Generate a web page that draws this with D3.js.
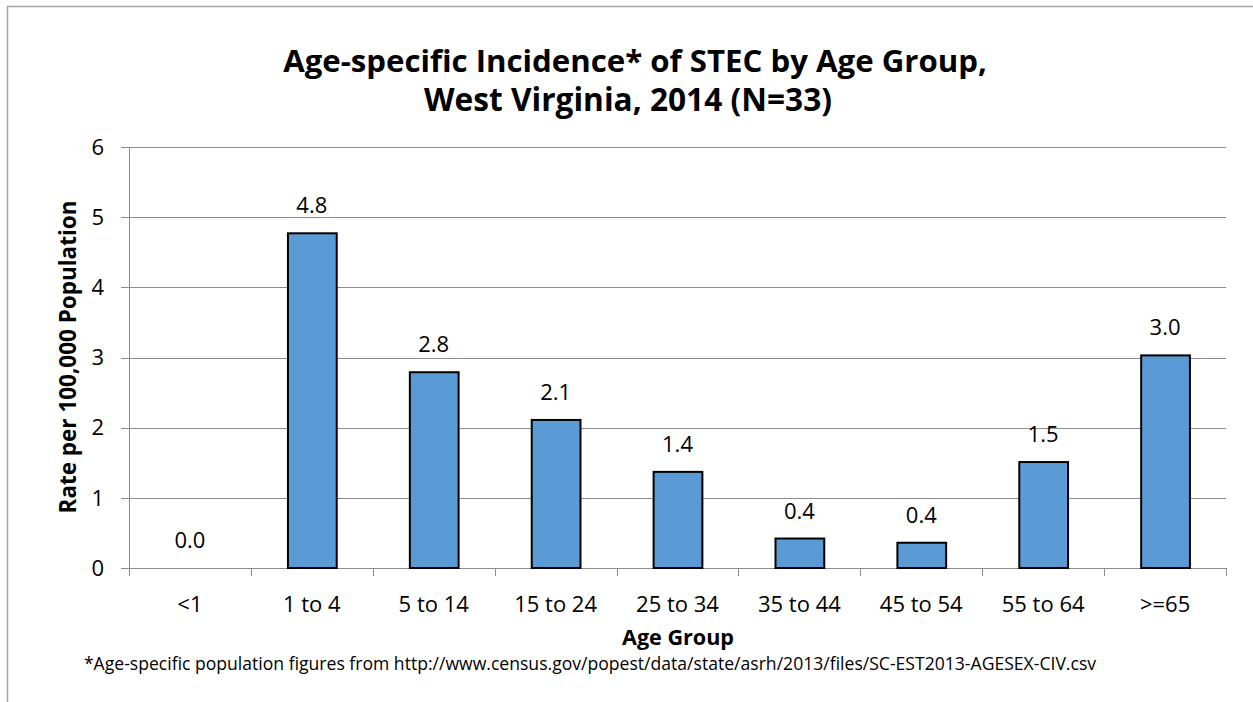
<!DOCTYPE html>
<html>
<head>
<meta charset="utf-8">
<script src="https://cdn.jsdelivr.net/npm/d3@7"></script>
<style>
  html, body { margin: 0; padding: 0; background: #fff; }
  svg { display: block; font-family: "Open Sans", Lato, sans-serif; }
</style>
</head>
<body>
<svg id="chart" width="1253" height="702"></svg>
<script>
// STEC age-specific incidence, WV 2014
const groups = ['<1', '1 to 4', '5 to 14', '15 to 24', '25 to 34', '35 to 44', '45 to 54', '55 to 64', '>=65'];
const rates = [0, 4.77, 2.79, 2.11, 1.37, 0.42, 0.36, 1.51, 3.03];
const labels = ['0.0', '4.8', '2.8', '2.1', '1.4', '0.4', '0.4', '1.5', '3.0'];
const yTicks = [0, 1, 2, 3, 4, 5, 6];

const W = 1253, H = 702;
const M = { left: 129, right: 1226, top: 147, bottom: 568 };
const svg = d3.select('#chart');

// ajusta el tamaño de letra para que el texto ocupe el ancho dado
function fit(sel, width) {
  const s = parseFloat(sel.style('font-size'));
  const w = sel.node().getComputedTextLength();
  sel.style('font-size', (s * width / w).toFixed(2) + 'px');
  return sel;
}

// marco del gráfico
svg.append('path')
  .attr('d', `M7.5,${H} V6.5 H${W}`)
  .attr('fill', 'none').attr('stroke', '#a6a6a6').attr('stroke-width', 1.5);

const x = d3.scaleBand().domain(groups).range([M.left, M.right]).paddingInner(0.6).paddingOuter(0.3);
const xb = d3.scaleBand().domain(groups).range([M.left, M.right]);
const y = d3.scaleLinear().domain([0, 6]).range([M.bottom, M.top]);

// rejilla
svg.append('g').selectAll('line').data(yTicks).join('line')
  .attr('x1', M.left - 8).attr('x2', M.right)
  .attr('y1', d => Math.round(y(d)) + 0.5).attr('y2', d => Math.round(y(d)) + 0.5)
  .attr('stroke', '#8c8c8c').attr('stroke-width', 1);

// eje y
svg.append('line').attr('x1', M.left + 0.5).attr('x2', M.left + 0.5)
  .attr('y1', M.top).attr('y2', M.bottom + 8).attr('stroke', '#8c8c8c');
svg.append('g').selectAll('text').data(yTicks).join('text')
  .attr('x', 104).attr('y', d => y(d)).attr('dy', '0.35em')
  .attr('text-anchor', 'end').style('font-size', '22px').attr('fill', '#000')
  .text(d => d);

// marcas del eje x
svg.append('g').selectAll('line').data(groups.concat(['end'])).join('line')
  .attr('x1', (d, i) => Math.round(i < groups.length ? xb(d) : M.right) + 0.5)
  .attr('x2', (d, i) => Math.round(i < groups.length ? xb(d) : M.right) + 0.5)
  .attr('y1', M.bottom).attr('y2', M.bottom + 8)
  .attr('stroke', '#8c8c8c');

// barras
svg.append('g').selectAll('rect').data(groups).join('rect')
  .attr('x', d => x(d) + 0.5)
  .attr('y', (d, i) => y(rates[i]))
  .attr('width', x.bandwidth())
  .attr('height', (d, i) => M.bottom - y(rates[i]))
  .attr('fill', '#5b9bd5').attr('stroke', '#000').attr('stroke-width', 2)
  .attr('display', (d, i) => rates[i] > 0 ? null : 'none');

// etiquetas de valor
svg.append('g').selectAll('text').data(groups).join('text')
  .attr('x', d => x(d) + x.bandwidth() / 2)
  .attr('y', (d, i) => y(rates[i]) - 20)
  .attr('text-anchor', 'middle').style('font-size', '22px')
  .text((d, i) => labels[i]);

// etiquetas x
svg.append('g').selectAll('text').data(groups).join('text')
  .attr('x', d => xb(d) + xb.bandwidth() / 2)
  .attr('y', 612)
  .attr('text-anchor', 'middle').style('font-size', '22px')
  .text(d => d);

// títulos
fit(svg.append('text').attr('x', 635).attr('y', 72).attr('text-anchor', 'middle')
  .style('font-size', '30px').attr('font-weight', 700).text('Age-specific Incidence* of STEC by Age Group,'), 704);
fit(svg.append('text').attr('x', 628).attr('y', 111).attr('text-anchor', 'middle')
  .style('font-size', '30px').attr('font-weight', 700).text('West Virginia, 2014 (N=33)'), 408);

fit(svg.append('text').attr('x', 678).attr('y', 645).attr('text-anchor', 'middle')
  .style('font-size', '20px').attr('font-weight', 700).text('Age Group'), 112);

fit(svg.append('text').attr('transform', 'translate(76,357) rotate(-90)').attr('text-anchor', 'middle')
  .style('font-size', '20px').attr('font-weight', 700).text('Rate per 100,000 Population'), 313);

fit(svg.append('text').attr('x', 590).attr('y', 670).attr('text-anchor', 'middle')
  .style('font-size', '18px')
  .text('*Age-specific population figures from http://www.census.gov/popest/data/state/asrh/2013/files/SC-EST2013-AGESEX-CIV.csv'), 1013);
</script>
</body>
</html>
